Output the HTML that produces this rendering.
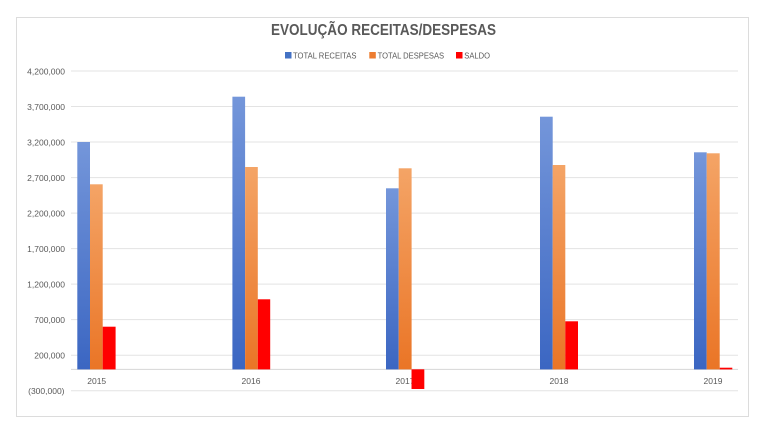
<!DOCTYPE html>
<html>
<head>
<meta charset="utf-8">
<style>
  html, body { margin:0; padding:0; background:#ffffff; }
  body { width:768px; height:437px; overflow:hidden; }
  svg { display:block; }
  text { font-family: "Liberation Sans", "DejaVu Sans", sans-serif; fill:#595959; }
</style>
</head>
<body>
<svg width="768" height="437" viewBox="0 0 768 437" xmlns="http://www.w3.org/2000/svg">
  <defs>
    <linearGradient id="gb" x1="0" y1="0" x2="0" y2="1">
      <stop offset="0" stop-color="#7496da"/>
      <stop offset="1" stop-color="#3b66c2"/>
    </linearGradient>
    <linearGradient id="go" x1="0" y1="0" x2="0" y2="1">
      <stop offset="0" stop-color="#f4a466"/>
      <stop offset="1" stop-color="#ea7526"/>
    </linearGradient>
  </defs>
  <rect x="0" y="0" width="768" height="437" fill="#ffffff"/>
  <!-- chart frame -->
  <rect x="16.5" y="17.5" width="732" height="399" fill="#ffffff" stroke="#dcdcdc" stroke-width="1"/>

  <!-- title -->
  <text x="383.5" y="35" text-anchor="middle" font-size="16" font-weight="bold" textLength="225" lengthAdjust="spacingAndGlyphs">EVOLUÇÃO RECEITAS/DESPESAS</text>

  <!-- legend -->
  <rect x="285" y="52" width="6.5" height="6.5" fill="#4472c4"/>
  <text x="293" y="58.5" font-size="8" textLength="63.5" lengthAdjust="spacingAndGlyphs">TOTAL RECEITAS</text>
  <rect x="369.3" y="52" width="6.5" height="6.5" fill="#ed7d31"/>
  <text x="377.6" y="58.5" font-size="8" textLength="66.5" lengthAdjust="spacingAndGlyphs">TOTAL DESPESAS</text>
  <rect x="456" y="52" width="6.5" height="6.5" fill="#ff0000"/>
  <text x="464.3" y="58.5" font-size="8" textLength="25.7" lengthAdjust="spacingAndGlyphs">SALDO</text>

  <!-- gridlines -->
  <g stroke="#e3e3e3" stroke-width="1">
    <line x1="71" y1="71" x2="738" y2="71"/>
    <line x1="71" y1="106.5" x2="738" y2="106.5"/>
    <line x1="71" y1="142" x2="738" y2="142"/>
    <line x1="71" y1="177.6" x2="738" y2="177.6"/>
    <line x1="71" y1="213.1" x2="738" y2="213.1"/>
    <line x1="71" y1="248.6" x2="738" y2="248.6"/>
    <line x1="71" y1="284.1" x2="738" y2="284.1"/>
    <line x1="71" y1="319.6" x2="738" y2="319.6"/>
    <line x1="71" y1="355.2" x2="738" y2="355.2"/>
    <line x1="71" y1="390.7" x2="738" y2="390.7"/>
  </g>
  <line x1="71" y1="369.4" x2="738" y2="369.4" stroke="#d6d6d6" stroke-width="1"/>

  <!-- y labels -->
  <g font-size="8.5" text-anchor="end">
    <text x="65" y="74.5">4,200,000</text>
    <text x="65" y="110">3,700,000</text>
    <text x="65" y="145.5">3,200,000</text>
    <text x="65" y="181">2,700,000</text>
    <text x="65" y="216.5">2,200,000</text>
    <text x="65" y="252">1,700,000</text>
    <text x="65" y="287.5">1,200,000</text>
    <text x="65" y="323">700,000</text>
    <text x="65" y="358.5">200,000</text>
    <text x="64.5" y="394">(300,000)</text>
  </g>

  <!-- bars -->
  <!-- 2015 -->
  <rect x="77.3" y="142" width="12.7" height="227.4" fill="url(#gb)"/>
  <rect x="90" y="184.3" width="12.7" height="185.1" fill="url(#go)"/>
  <rect x="102.7" y="326.7" width="12.9" height="42.7" fill="#ff0000"/>
  <!-- 2016 -->
  <rect x="232.4" y="96.7" width="12.7" height="272.7" fill="url(#gb)"/>
  <rect x="245.1" y="167" width="12.7" height="202.4" fill="url(#go)"/>
  <rect x="257.8" y="299.3" width="12.4" height="70.1" fill="#ff0000"/>
  <!-- 2017 -->
  <rect x="386" y="188.3" width="12.7" height="181.1" fill="url(#gb)"/>
  <rect x="398.7" y="168.3" width="12.9" height="201.1" fill="url(#go)"/>
  <rect x="411.6" y="369.4" width="12.6" height="19.6" fill="#ff0000"/>
  <!-- 2018 -->
  <rect x="540" y="116.7" width="12.7" height="252.7" fill="url(#gb)"/>
  <rect x="552.7" y="165" width="12.6" height="204.4" fill="url(#go)"/>
  <rect x="565.3" y="321.3" width="12.7" height="48.1" fill="#ff0000"/>
  <!-- 2019 -->
  <rect x="694" y="152.3" width="12.7" height="217.1" fill="url(#gb)"/>
  <rect x="706.7" y="153.3" width="13" height="216.1" fill="url(#go)"/>
  <rect x="719.7" y="367.7" width="12.6" height="1.7" fill="#ff0000"/>

  <!-- x labels -->
  <g font-size="8.5" text-anchor="middle">
    <text x="96.7" y="384">2015</text>
    <text x="251" y="384">2016</text>
    <text x="405" y="384">2017</text>
    <text x="559" y="384">2018</text>
    <text x="713" y="384">2019</text>
  </g>
  <!-- red negative bar overlaps 2017 label -->
  <rect x="411.6" y="369.4" width="12.6" height="19.6" fill="#ff0000"/>
</svg>
</body>
</html>
